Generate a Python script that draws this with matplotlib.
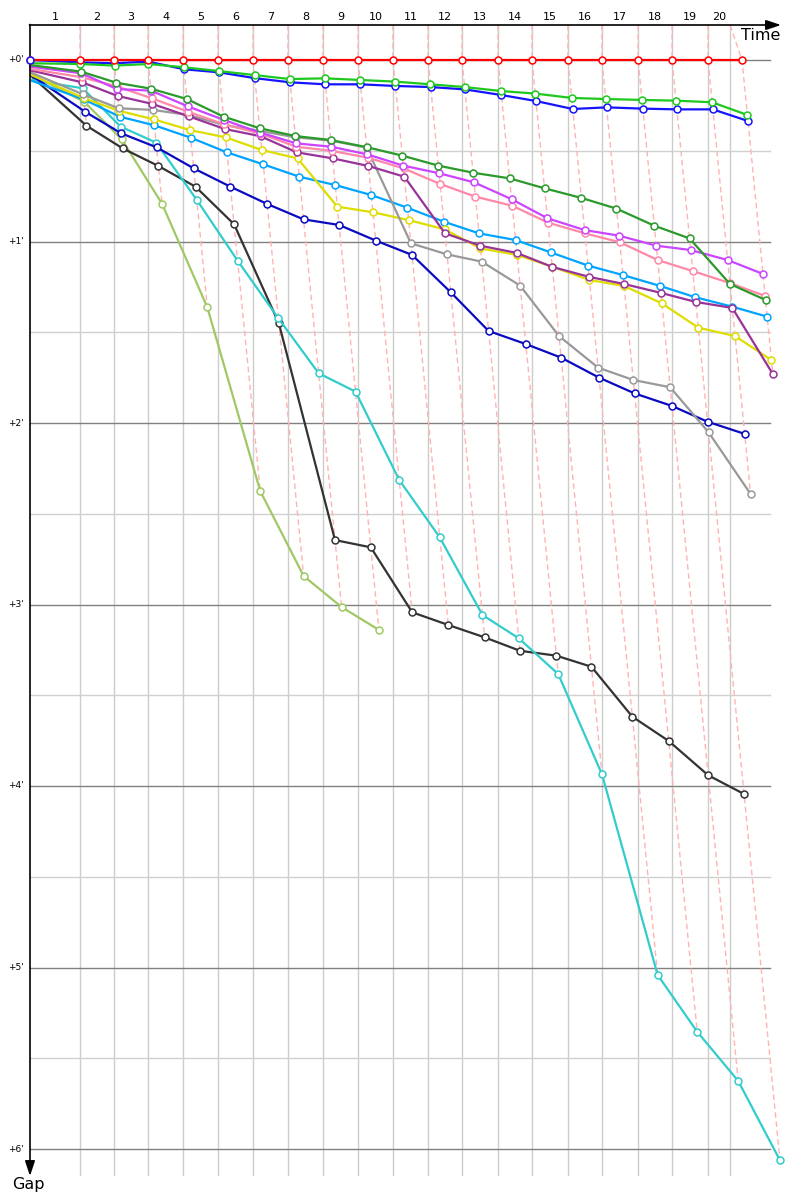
import matplotlib
matplotlib.use("Agg")
import matplotlib.pyplot as plt
import numpy as np

# ---------------- data ----------------
# race time (minutes) at which the leader completes each lap
leader_lap_time = [2.81, 4.72, 6.63, 8.60, 10.56, 12.53, 14.49, 16.46, 18.43, 20.39,
                   22.36, 24.27, 26.29, 28.20, 30.22, 32.13, 34.16, 36.07, 38.09, 40.00]
# vertical grid lines (minutes), one per lap
grid_time = [2.81, 4.72, 6.63, 8.60, 10.56, 12.53, 14.49, 16.46, 18.43, 20.39,
             22.36, 24.27, 26.29, 28.20, 30.22, 32.13, 34.16, 36.07, 38.09, 39.33]
lap_labels = [str(i) for i in range(1, 21)]
gap_ticks = [0, 1, 2, 3, 4, 5, 6]
gap_tick_labels = ["+0'", "+1'", "+2'", "+3'", "+4'", "+5'", "+6'"]

# gap to leader (minutes): first value = start, then lap 1, lap 2, ...
gap_red = [0.0] + [0.0] * 20
gap_blue = [0.0, 0.013, 0.018, 0.009, 0.051, 0.068, 0.10, 0.123, 0.134, 0.134, 0.143,
            0.149, 0.162, 0.193, 0.226, 0.27, 0.261, 0.268, 0.272, 0.272, 0.336]
gap_green = [0.018, 0.022, 0.031, 0.022, 0.04, 0.061, 0.083, 0.105, 0.101, 0.11, 0.119,
             0.134, 0.149, 0.171, 0.185, 0.209, 0.215, 0.22, 0.224, 0.233, 0.303]
gap_darkgreen = [0.028, 0.064, 0.125, 0.158, 0.215, 0.312, 0.376, 0.419, 0.441, 0.48, 0.527,
                 0.582, 0.621, 0.652, 0.707, 0.76, 0.819, 0.913, 0.983, 1.234, 1.322]
gap_magenta = [0.037, 0.073, 0.16, 0.169, 0.255, 0.33, 0.40, 0.459, 0.478, 0.52, 0.582,
               0.624, 0.674, 0.767, 0.872, 0.937, 0.968, 1.023, 1.047, 1.102, 1.179]
gap_pink = [0.05, 0.095, 0.145, 0.211, 0.285, 0.355, 0.405, 0.478, 0.501, 0.538, 0.597,
            0.683, 0.753, 0.803, 0.896, 0.955, 1.004, 1.102, 1.163, 1.229, 1.30]
gap_purple = [0.058, 0.123, 0.198, 0.242, 0.31, 0.38, 0.42, 0.509, 0.542, 0.584, 0.643,
              0.955, 1.023, 1.063, 1.14, 1.195, 1.234, 1.283, 1.333, 1.366, 1.73]
gap_gray = [0.07, 0.19, 0.266, 0.275, 0.303, 0.358, 0.391, 0.426, 0.444, 0.483, 1.01,
            1.071, 1.111, 1.243, 1.521, 1.695, 1.763, 1.803, 2.051, 2.391]
gap_yellow = [0.083, 0.21, 0.28, 0.327, 0.386, 0.426, 0.496, 0.542, 0.808, 0.839, 0.882,
              0.933, 1.038, 1.074, 1.139, 1.212, 1.245, 1.341, 1.475, 1.521, 1.653]
gap_lightblue = [0.115, 0.217, 0.312, 0.36, 0.428, 0.509, 0.575, 0.643, 0.689, 0.744, 0.814,
                 0.891, 0.955, 0.992, 1.06, 1.133, 1.185, 1.245, 1.307, 1.359, 1.414]
gap_navy = [0.085, 0.285, 0.404, 0.481, 0.597, 0.698, 0.793, 0.878, 0.909, 0.995, 1.074,
            1.28, 1.493, 1.565, 1.64, 1.75, 1.837, 1.906, 1.993, 2.06]
gap_cyan = [0.11, 0.156, 0.367, 0.455, 0.771, 1.106, 1.423, 1.726, 1.827, 2.314, 2.63,
            3.058, 3.186, 3.383, 3.936, 5.041, 5.354, 5.625, 6.062]
gap_black = [0.09, 0.362, 0.487, 0.584, 0.698, 0.905, 1.451, 2.645, 2.685, 3.043, 3.113,
             3.181, 3.255, 3.282, 3.343, 3.618, 3.752, 3.941, 4.044]
gap_lightgreen = [0.08, 0.23, 0.437, 0.793, 1.363, 2.375, 2.843, 3.014, 3.14]

series = [
    ("Driver 1", gap_red, "#ff0000"),
    ("Driver 2", gap_green, "#1ec81e"),
    ("Driver 3", gap_blue, "#1414ff"),
    ("Driver 4", gap_darkgreen, "#2a9a2a"),
    ("Driver 5", gap_magenta, "#cc44ff"),
    ("Driver 6", gap_pink, "#ff88a8"),
    ("Driver 7", gap_purple, "#993399"),
    ("Driver 8", gap_gray, "#999999"),
    ("Driver 9", gap_yellow, "#dddd00"),
    ("Driver 10", gap_lightblue, "#00a4ff"),
    ("Driver 11", gap_navy, "#0a0ac0"),
    ("Driver 12", gap_cyan, "#33cccc"),
    ("Driver 13", gap_black, "#333333"),
    ("Driver 14", gap_lightgreen, "#a0c864"),
]

# ---------------- layout ----------------
W, H = 800, 1200
X0, PX_PER_MIN_X = 30.0, 17.8   # time axis
Y0, PX_PER_MIN_Y = 60.0, 181.5  # gap axis

fig = plt.figure(figsize=(W / 100, H / 100), dpi=100)
ax = fig.add_axes([0, 0, 1, 1])
ax.set_xlim(-X0 / PX_PER_MIN_X, (W - X0) / PX_PER_MIN_X)
ax.set_ylim((H - Y0) / PX_PER_MIN_Y, -Y0 / PX_PER_MIN_Y)
ax.set_axis_off()

def tx(px):
    return (px - X0) / PX_PER_MIN_X

def gy(py):
    return (py - Y0) / PX_PER_MIN_Y

g_top = gy(25)
g_bottom_grid = gy(1175)
t_right_grid = tx(770)

# horizontal grid lines (major every minute, minor every half minute)
for h in np.arange(0, 6.01, 0.5):
    major = abs(h - round(h)) < 1e-6
    ax.plot([0, t_right_grid], [h, h], color="#808080" if major else "#d0d0d0",
            lw=1.0, zorder=0.5 if major else 0.4)

# vertical grid lines
for gt in grid_time:
    ax.plot([gt, gt], [g_top, g_bottom_grid], color="#cccccc", lw=1.0, zorder=0.3)

# lap lines (dashed): from grid position at top, through all points of that lap
for k in range(len(leader_lap_time)):
    gmax = 0.0
    for _, gaps, _ in series:
        if len(gaps) > k + 1:
            gmax = max(gmax, gaps[k + 1])
    T = leader_lap_time[k]
    ax.plot([grid_time[k], T, T + gmax], [g_top, 0, gmax], color="#ffb4b4",
            lw=1.0, ls=(0, (4, 2.5)), zorder=1)

# driver lines
for i, (name, gaps, color) in enumerate(reversed(series)):
    times = [0.0 + gaps[0]] + [leader_lap_time[k] + gaps[k + 1] for k in range(len(gaps) - 1)]
    z = 2 + i * 0.1
    ax.plot(times, gaps, color=color, lw=1.6, zorder=z, solid_joinstyle="round")
    ax.plot(times[1:], gaps[1:], ls="none", marker="o", ms=5, mfc="white",
            mec=color, mew=1.1, zorder=z + 0.05)

# start markers for cars at zero gap (later ones drawn on top)
for i, (name, gaps, color) in enumerate(series):
    if gaps[0] == 0:
        ax.plot([gaps[0]], [gaps[0]], ls="none", marker="o", ms=5, mfc="white",
                mec=color, mew=1.1, zorder=10 + i)

# axes arrows
def fp(x, y):
    return (x, H - y)

ax.annotate("", xy=fp(781, 25), xytext=fp(29.5, 25), xycoords="figure pixels",
            textcoords="figure pixels",
            arrowprops=dict(arrowstyle="-|>,head_length=0.9,head_width=0.3",
                            color="black", lw=1.2, shrinkA=0, shrinkB=0), zorder=5)
ax.annotate("", xy=fp(30, 1176), xytext=fp(30, 24.5), xycoords="figure pixels",
            textcoords="figure pixels",
            arrowprops=dict(arrowstyle="-|>,head_length=0.9,head_width=0.3",
                            color="black", lw=1.2, shrinkA=0, shrinkB=0), zorder=5)

fig.text(741 / W, 1 - 36 / H, "Time", fontsize=11.5, ha="left", va="center")
fig.text(12 / W, 1 - 1185 / H, "Gap", fontsize=11.5, ha="left", va="center")

# lap labels at the top
edges = [0.0] + grid_time
for k, lab in enumerate(lap_labels):
    xm = 0.5 * (edges[k] + edges[k + 1])
    ax.text(xm, gy(17), lab, ha="center", va="center", fontsize=8, clip_on=False)

# gap tick labels
for g, lab in zip(gap_ticks, gap_tick_labels):
    ax.text(tx(24), g, lab, ha="right", va="center", fontsize=6.5, clip_on=False)

fig.savefig("out.png", dpi=100)
